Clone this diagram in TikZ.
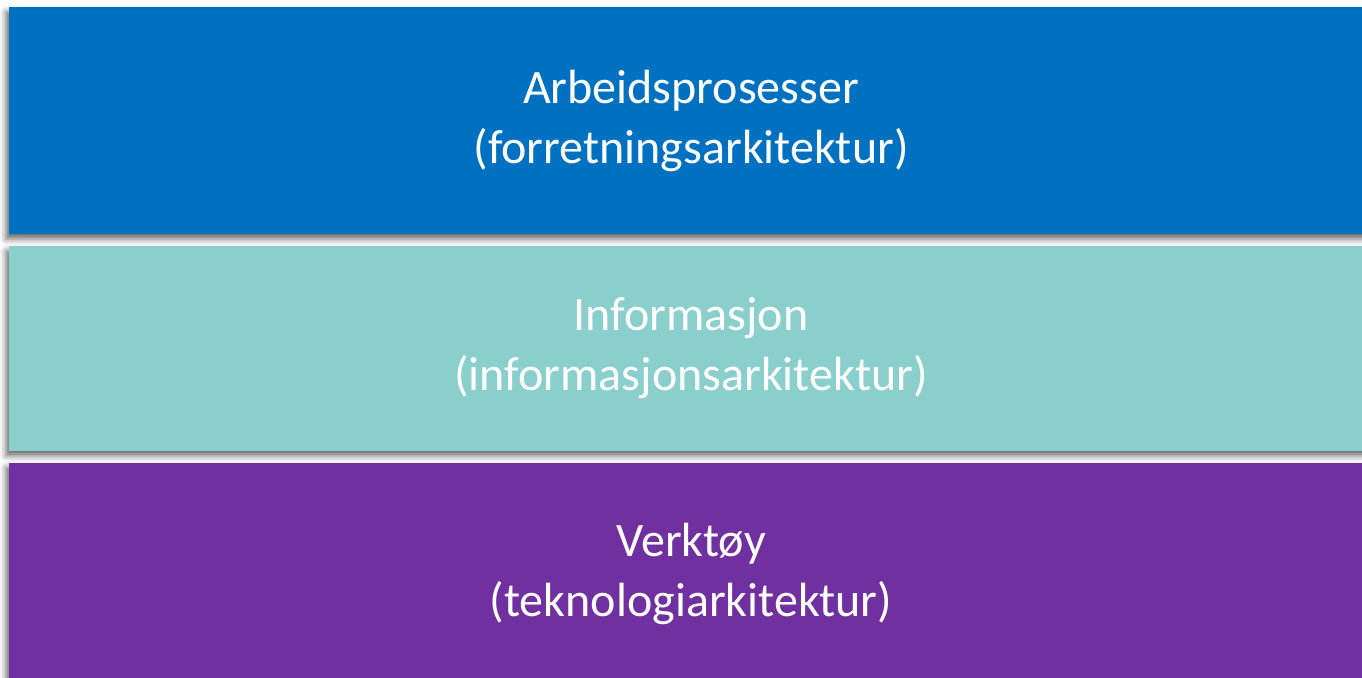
\documentclass[tikz,border=0pt]{standalone}
\usepackage{fontspec}
\setmainfont{Carlito}
\usepackage{xcolor}
\usetikzlibrary{positioning,shadows.blur}
\definecolor{cBlue}{HTML}{0070C0}
\definecolor{cTeal}{HTML}{8BCFCD}
\definecolor{cPurple}{HTML}{7030A0}

\begin{document}
\begin{tikzpicture}[
    x=0.5pt, y=-0.5pt,
    font=\fontsize{24}{30}\selectfont,
    lyr/.style={rectangle, draw=none, text=white, align=center,
      minimum width=682pt, inner sep=0pt,
      blur shadow={shadow xshift=-1.5pt, shadow yshift=-2.5pt,
        shadow blur radius=3pt, shadow opacity=60}},
    node distance=5.5pt]

    \useasboundingbox (0,0) rectangle (1362,677);

    \node[lyr, fill=cBlue, minimum height=113.5pt] (proc) at (691,120.5)
      {Arbeidsprosesser\\(forretningsarkitektur)};
    \node[lyr, fill=cTeal, minimum height=102.5pt, below=of proc] (info)
      {Informasjon\\(informasjonsarkitektur)};
    \node[lyr, fill=cPurple, minimum height=111pt, below=of info] (tool)
      {Verktøy\\(teknologiarkitektur)};
  \end{tikzpicture}
\end{document}
